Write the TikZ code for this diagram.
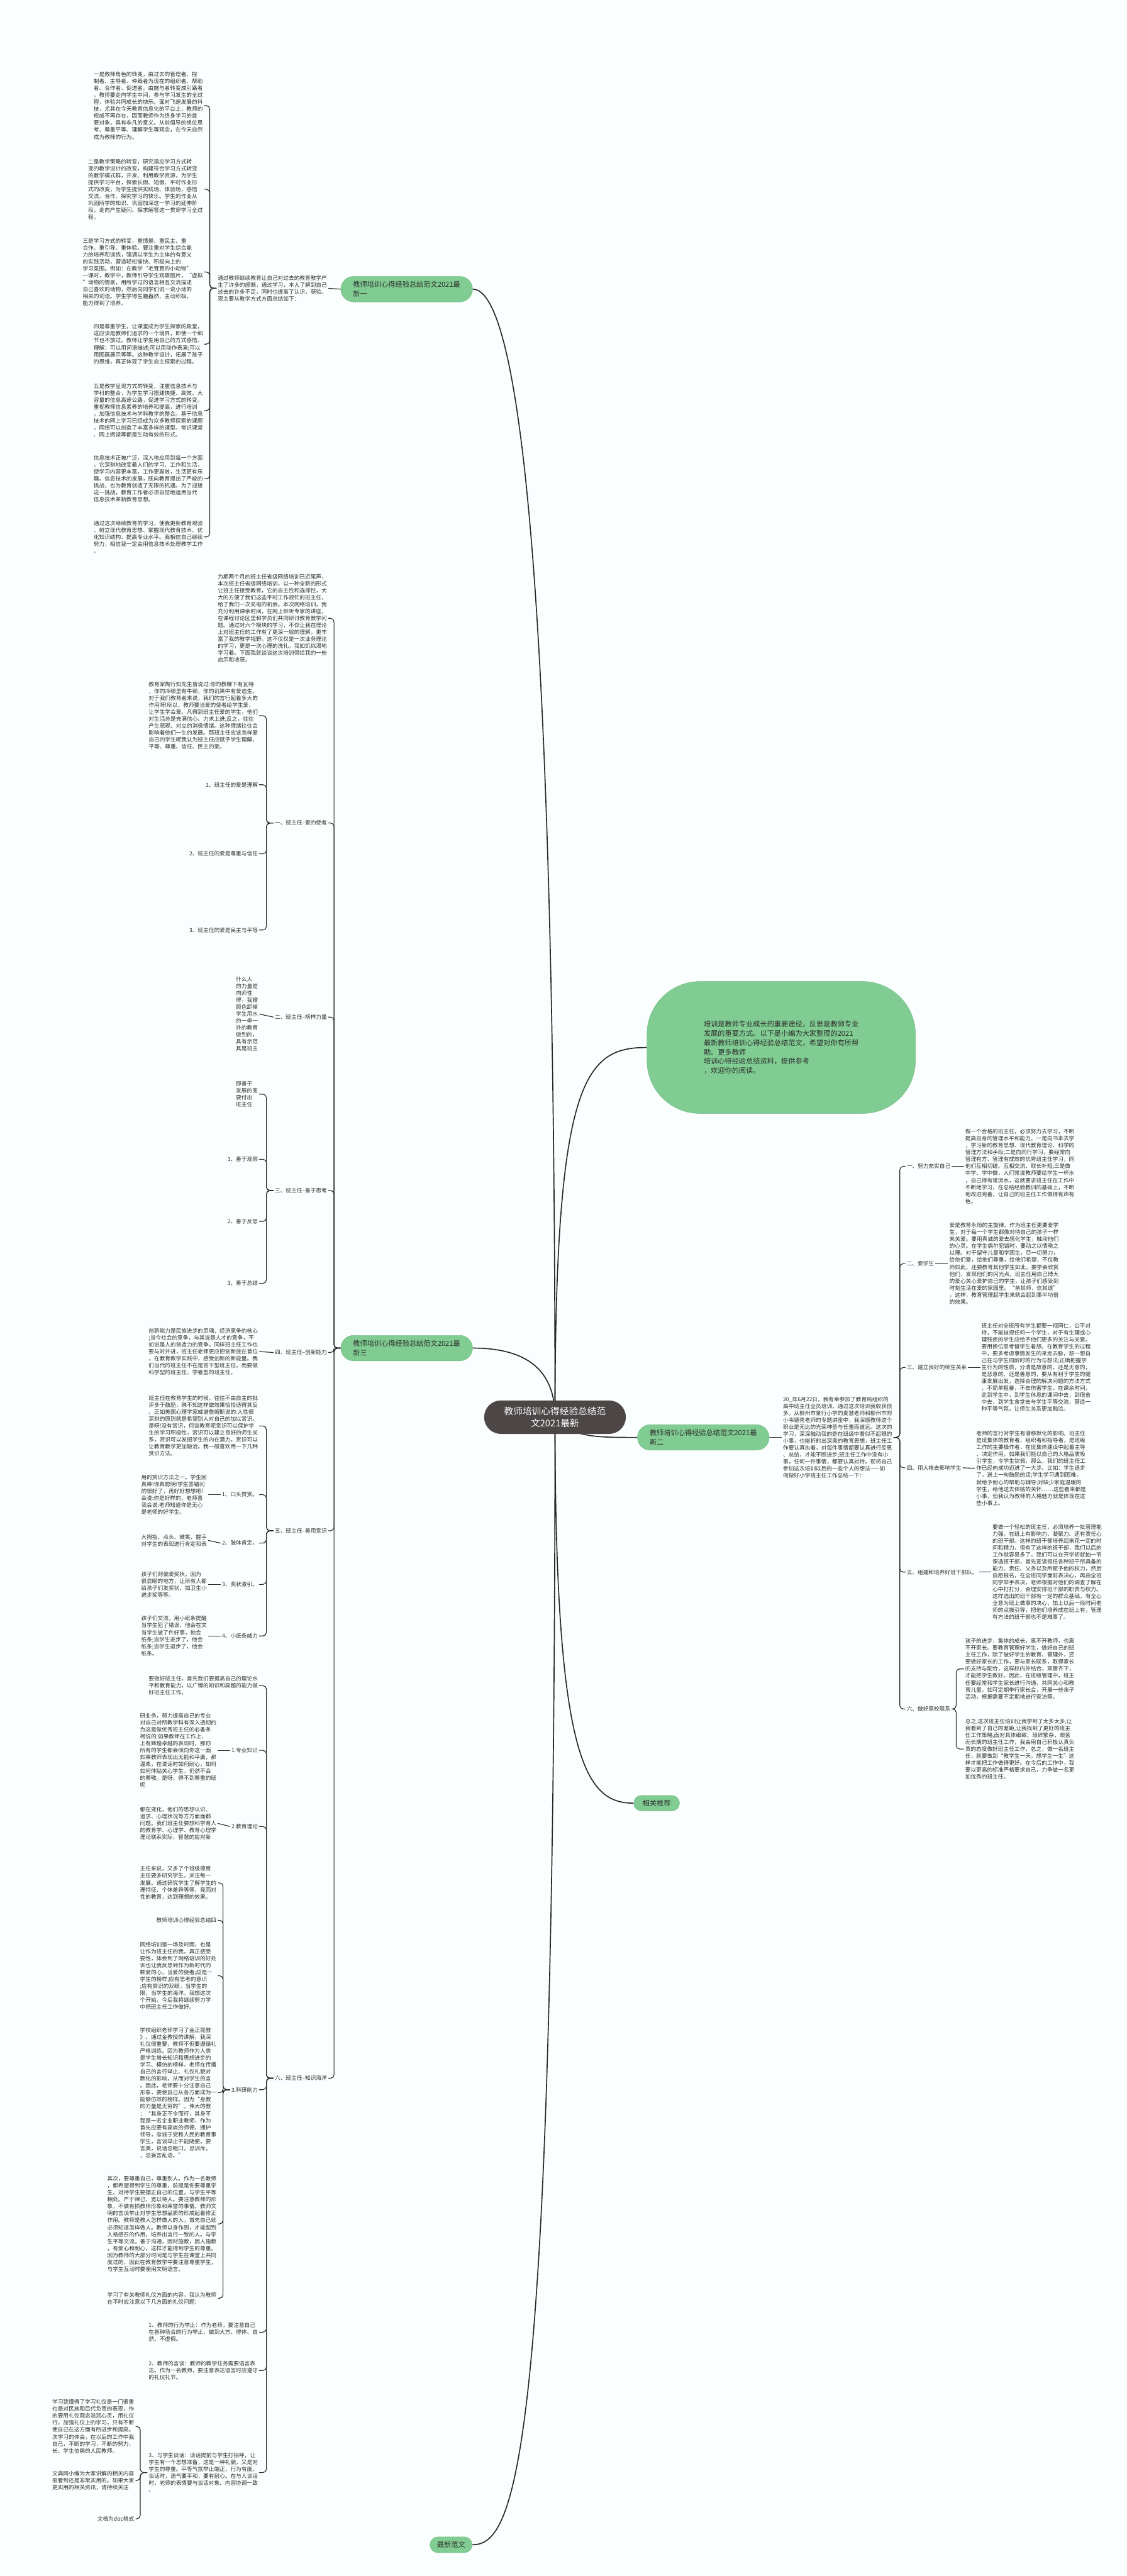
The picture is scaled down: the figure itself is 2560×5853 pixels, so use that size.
\documentclass[tikz,border=0pt]{standalone}
\usepackage{fontspec}
\setmainfont{Noto Sans CJK SC}
\usetikzlibrary{backgrounds}
\definecolor{leafgreen}{RGB}{128,204,146}
\definecolor{rootgray}{RGB}{76,71,70}
\definecolor{linegray}{RGB}{40,40,40}
\definecolor{paper}{RGB}{251,254,254}
\definecolor{inkgray}{RGB}{45,45,45}

\begin{document}
\begin{tikzpicture}[x=1pt,y=-1pt,
  root/.style={fill=rootgray,text=white,rounded corners=38pt,minimum width=322pt,minimum height=76pt,align=center,font=\fontsize{21}{28}\selectfont},
  branch/.style={fill=leafgreen,draw=leafgreen!90!black,line width=0.6pt,rounded corners=29pt,minimum height=58pt,inner xsep=28pt,align=left,font=\fontsize{16}{21}\selectfont,text=inkgray},
  lbl/.style={inner sep=3pt,font=\fontsize{12.4}{15.8}\selectfont,text=inkgray},
  para/.style={lbl,align=left},
  trunk/.style={draw=linegray,line width=2.4pt},
  conn/.style={draw=linegray,line width=1.6pt,rounded corners=8pt}]

\useasboundingbox (0,0) rectangle (2560,5853);

% centre and main branches
\node[root] (root) at (1261,3220) {教师培训心得经验总结范\\文2021最新};
\node[branch] (one) at (924,657) {教师培训心得经验总结范文2021最\\新一};
\node[branch] (two) at (1598,3266) {教师培训心得经验总结范文2021最\\新二};
\node[branch] (three) at (924,3063) {教师培训心得经验总结范文2021最\\新三};
\node[branch,rounded corners=120pt,minimum width=610pt,minimum height=300pt,align=left] (bubble) at (1775,2380) {培训是教师专业成长的重要途径，反思是教师专业\\发展的重要方式。以下是小编为大家整理的2021\\最新教师培训心得经验总结范文，希望对你有所帮\\助。更多教师\\培训心得经验总结资料，提供参考\\，欢迎你的阅读。};
\node[branch,minimum height=35pt,rounded corners=17pt,inner xsep=20pt] (related) at (1492,4097) {相关推荐};
\node[branch,minimum height=36pt,rounded corners=18pt,inner xsep=16pt] (latest) at (1025,5782) {最新范文};

% branch one
\node[para,anchor=east] (intro1) at (746,655) {通过教师继续教育让自己对过去的教育教学产\\生了许多的感慨，通过学习，本人了解到自己\\过去的许多不足，同时也提高了认识，获验。\\现主要从教学方式方面总结如下：};
\node[para,anchor=east] (t1) at (464,240) {一是教师角色的转变，由过去的管理者、控\\制者、主导者、仲裁者为现在的组织者、帮助\\者、合作者、促进者。由施与者转变成引路者\\，教师要走向学生中间，参与学习发生的全过\\程，体验共同成长的快乐。面对飞速发展的科\\技，尤其在今天教育信息化的平台上，教师的\\权威不再存在，因而教师作为终身学习的首\\要对象，具有非凡的意义。从前倡导的换位思\\考、尊重平等、理解学生等观念，在今天自然\\成为教师的行为。};
\node[para,anchor=east] (t2) at (464,430) {二是教学策略的转变，研究适应学习方式转\\变的教学设计的改变，构建符合学习方式转变\\的教学模式群，开发、利用教学资源，为学生\\提供学习平台，探索长假、短假、平时作业形\\式的改变，为学生提供实践场、体验场，感悟\\交流、合作、探究学习的快乐。学生的作业从\\巩固所学的知识、巩固加深这一学习的延伸阶\\段，走向产生疑问、探求解答这一贯穿学习全过\\程。};
\node[para,anchor=east] (t3) at (464,618) {三是学习方式的转变，重情景、重民主、重\\合作、重引导、重体验。要注重对学生综合能\\力的培养和训练，强调以学生为主体的有意义\\的实践活动，营造轻松愉快、积极向上的\\学习氛围。例如：在教学“毛茸茸的小动物”\\一课时，教学中，教师引导学生观察图片，“虚拟\\”动物的情景，用所学过的语言相互交流描述\\自己喜欢的动物，然后向同学们说一说小动的\\相关的词语。学生学得生趣盎然、主动积极，\\能力得到了培养。};
\node[para,anchor=east] (t4) at (464,782) {四是尊重学生，让课堂成为学生探索的殿堂，\\这应该是教师们追求的一个境界，即使一个细\\节也不放过。教师让学生用自己的方式感悟、\\理解：可以用词语描述;可以用动作表演;可以\\用图画展示等等。这种教学设计，拓展了孩子\\的思维，真正体现了学生自主探索的过程。};
\node[para,anchor=east] (t5) at (464,933) {五是教学呈现方式的转变，注重信息技术与\\学科的整合，为学生学习搭建快捷、高效、大\\容量的信息高速公路，促进学习方式的转变。\\重视教师信息素养的培养和提高，进行培训\\，加强信息技术与学科教学的整合。基于信息\\技术的网上学习已经成为众多教师探索的课题\\，网络可以创造了丰富多样的课型。常识课堂\\、网上阅读等都是生动有效的形式。};
\node[para,anchor=east] (t6) at (464,1088) {信息技术正被广泛，深入地应用到每一个方面\\，它深刻地改变着人们的学习、工作和生活，\\使学习内容更丰富，工作更高效，生活更有乐\\趣。信息技术的发展，既向教育提出了严峻的\\挑战，也为教育创造了无限的机遇。为了迎接\\这一挑战，教育工作者必须自觉地运用当代\\信息技术革新教育思想。};
\node[para,anchor=east] (t7) at (464,1220) {通过这次继续教育的学习，使我更新教育观验\\、树立现代教育思想、掌握现代教育技术、优\\化知识结构、提高专业水平。我相信自己继续\\努力，相信我一定会用信息技术处理教学工作\\。};

% branch three
\node[para,anchor=east] (c0) at (746,1405) {为期两个月的班主任省级网络培训已近尾声，\\本次班主任省级网络培训，以一种全新的形式\\让班主任接受教育，它的自主性和选择性，大\\大的方便了我们这些平时工作很忙的班主任，\\给了我们一次充电的机会。本次网络培训，我\\充分利用课余时间，在网上聆听专家的讲座，\\在课程讨论区里和学员们共同研讨教育教学问\\题。通过对六个模块的学习，不仅让我在理论\\上对班主任的工作有了更深一层的理解，更丰\\富了我的教学视野。这不仅仅是一次业务理论\\的学习，更是一次心理的洗礼。我如饥似渴地\\学习着。下面我就谈谈这次培训带给我的一些\\启示和收获。};
\node[lbl,anchor=east] (c1) at (746,1870) {一、班主任--爱的使者};
\node[lbl,anchor=east] (c2) at (746,2311) {二、班主任--榜样力量};
\node[lbl,anchor=east] (c3) at (746,2705) {三、班主任--善于思考};
\node[lbl,anchor=east] (c4) at (746,3073) {四、班主任--创新能力};
\node[lbl,anchor=east] (c5) at (746,3478) {五、班主任--善用赏识};
\node[lbl,anchor=east] (c6) at (746,4722) {六、班主任--知识海洋};

\node[para,anchor=east] (c1a) at (589,1626) {教育家陶行知先生曾说过:你的教鞭下有瓦特\\，你的冷眼里有牛顿，你的讥笑中有爱迪生。\\对于我们教育者来说，我们的言行起着多大的\\作用呀!所以，教师要当爱的使者给学生爱，\\让学生学会爱。凡得到班主任爱的学生，他们\\对生活总是充满信心、力求上进;反之，往往\\产生悲观、对立的消极情绪。这种情绪往往会\\影响着他们一生的发展。那班主任应该怎样爱\\自己的学生呢我认为班主任应赋予学生理解、\\平等、尊重、信任、民主的爱。};
\node[lbl,anchor=east] (c1b) at (589,1783) {1、班主任的爱是理解};
\node[lbl,anchor=east] (c1c) at (589,1940) {2、班主任的爱是尊重与信任};
\node[lbl,anchor=east] (c1d) at (589,2113) {3、班主任的爱是民主与平等};
\node[para,anchor=east] (c2a) at (589,2304) {什么人\\的力量是\\向师性\\得，我婚\\颜色卸掉\\学生用水\\的一举一\\外的教育\\做到的，\\具有示范\\其是班主};
\node[para,anchor=east] (c3a) at (589,2486) {即善于\\发展的变\\要付出\\班主任};
\node[lbl,anchor=east] (c3b) at (589,2634) {1、善于观察};
\node[lbl,anchor=east] (c3c) at (589,2775) {2、善于反思};
\node[lbl,anchor=east] (c3d) at (589,2916) {3、善于总结};
\node[para,anchor=east] (c4a) at (589,3071) {创新能力是民族进步的灵魂、经济竞争的核心\\;当今社会的竞争，与其说是人才的竞争，不\\如说是人的创造力的竞争。同样班主任工作也\\要与时并进，班主任老师更应把创新放在首位\\。在教育教学实践中，感受创新的新能量。我\\们当代的班主任不在是苦干型班主任，而要做\\科学型的班主任、学者型的班主任。};
\node[para,anchor=east] (c5a) at (589,3240) {班主任在教育学生的时候，往往不由自主的批\\评多于鼓励，殊不知这样做效果恰恰适得其反\\。正如美国心理学家威谱詹姆斯说的:人性很\\深刻的原则就是希望别人对自己的加以赏识。\\是呀!没有赏识，何谈教育呢赏识可以保护学\\生的学习积极性，赏识可以建立良好的师生关\\系，赏识可以发掘学生的内在潜力，赏识可以\\让教育教学更加融洽。我一般喜欢用一下几种\\赏识方法。};
\node[lbl,anchor=east] (c5b) at (589,3396) {1、口头赞赏。};
\node[lbl,anchor=east] (c5c) at (589,3506) {2、肢体肯定。};
\node[lbl,anchor=east] (c5d) at (589,3600) {3、奖状激引。};
\node[lbl,anchor=east] (c5e) at (589,3717) {4、小纸条威力};
\node[para,anchor=east] (c5b1) at (473,3396) {用的赏识方法之一。学生回\\真棒!你真聪明!学生答错问\\的很好了，再好好想想吧!\\会说:你是好样的，老师喜\\我会说:老师知道你是无心\\是老师的好学生。};
\node[para,anchor=east] (c5c1) at (473,3500) {大拇指、点头、微笑、握手\\对学生的表现进行肯定和表};
\node[para,anchor=east] (c5d1) at (473,3600) {孩子们则偏爱奖状。因为\\很显眼的地方，让所有人都\\给孩子们发奖状，如卫生小\\进步奖等等。};
\node[para,anchor=east] (c5e1) at (473,3717) {孩子们交流，用小纸条提醒\\当学生犯了错误，他会在文\\当学生做了件好事，他会\\纸条;当学生进步了，他会\\纸条;当学生退步了，他会\\纸条。};
\node[para,anchor=east] (c6a) at (589,3830) {要做好班主任，首先我们要提高自己的理论水\\平和教育能力，以广博的知识和高超的能力做\\好班主任工作。};
\node[lbl,anchor=east] (c6b) at (589,3977) {1.专业知识};
\node[lbl,anchor=east] (c6c) at (589,4150) {2.教育理论};
\node[lbl,anchor=east] (c6d) at (589,4748) {3.科研能力};
\node[para,anchor=east] (c6b1) at (495,3977) {研业务，努力提高自己的专业\\对自己对所教学科有深入透彻的\\为这是做优秀班主任的必备条\\柯说的:如果教师在工作上、\\上有辉煌卓越的表现时，那你\\所有的学生都会倾向你这一面\\如果教师表现出无能和平庸，那\\温柔，在说话时如何耐心，如何\\如何体贴关心学生，仍然不会\\的尊敬。是呀，得不到尊重的班\\呢};
\node[para,anchor=east] (c6c1) at (495,4143) {都在变化，他们的思想认识、\\追求、心理状况等方方面面都\\问题。我们班主任要想科学育人\\的教育学、心理学、教育心理学\\理论联系实际，智慧的应对新};
\node[para,anchor=east] (d1) at (495,4278) {主任来说，又多了个班级德育\\主任要多研究学生，关注每一\\发展。通过研究学生了解学生的\\理特征、个体差异等等，竟而对\\性的教育，达到理想的效果。};
\node[lbl,anchor=east] (d2) at (495,4363) {教师培训心得经验总结四};
\node[para,anchor=east] (d3) at (495,4489) {网络培训是一场及时雨，也是\\让作为班主任的我，真正感受\\要性，体会到了网络培训的好处\\训也让我反思到作为新时代的\\颗爱的心，当爱的使者;应是一\\学生的榜样;应有思考的意识\\;应有赏识的双眼，当学生的\\限，当学生的海洋。我想这次\\个开始，今后我将继续努力学\\中把班主任工作做好。};
\node[para,anchor=east] (d4) at (495,4755) {学校组织老师学习了金正昆教\\》。通过金教授的讲解，我深\\礼仪很重要，教师不但要遵循礼\\严格训练。因为教师作为人类\\是学生增长知识和思想进步的\\学习、模仿的榜样。老师在传播\\自己的言行举止、礼仪礼貌对\\默化的影响，从而对学生的言\\。因此，老师要十分注意自己\\形象，要使自己从各方面成为一\\能够仿效的榜样。因为“身教\\的力量是无穷的”。伟大的教\\：“其身正不令而行，其身不\\我是一名企业职业教师，作为\\首先应要有高尚的师德，拥护\\领导，忠诚于党和人民的教育事\\学生，言谈举止不能随便，要\\言美，说话忌粗口，忌训斥，\\，忌妄言乱语。”};
\node[para,anchor=east] (d5) at (495,5053) {其次，要尊重自己，尊重别人。作为一名教师\\，都希望得到学生的尊重，前提是你要尊重学\\生。对待学生要摆正自己的位置，与学生平等\\相处。严于律己，宽以待人。要注意教师的形\\象，不做有损教师形象和荣誉的事情。教师文\\明的言谈举止对学生思想品质的形成起着修正\\作用。教师是教人怎样做人的人，首先自己就\\必须知道怎样做人。教师以身作则，才能起到\\人格感召的作用，培养出言行一致的人。与学\\生平等交流，善于沟通，因材施教，因人施教\\，有爱心和耐心，这样才能得到学生的尊重。\\因为教师的大部分时间是与学生在课堂上共同\\度过的，因此在教育教学中要注意尊重学生，\\与学生互动时要使用文明语言。};
\node[para,anchor=east] (d6) at (495,5222) {学习了有关教师礼仪方面的内容，我认为教师\\在平时应注意以下几方面的礼仪问题：};
\node[para,anchor=east] (c6e) at (589,5299) {1、教师的行为举止：作为老师，要注意自己\\在各种场合的行为举止，做到大方、得体、自\\然、不虚假。};
\node[para,anchor=east] (c6f) at (589,5386) {2、教师的言谈：教师的教学任务需要语言表\\达。作为一名教师，要注意表达语言时应遵守\\的礼仪礼节。};
\node[para,anchor=east] (c6g) at (589,5618) {3、与学生谈话：谈话提前与学生打招呼，让\\学生有一个思想准备，这是一种礼貌，又是对\\学生的尊重。平等气氛举止端正，行为有度。\\谈话时，语气要平和，要有耐心。在与人谈话\\时，老师的表情要与谈话对象、内容协调一致\\。};
\node[para,anchor=east] (e1) at (308,5513) {学习我懂得了学习礼仪是一门很重\\也是对民族和后代负责的表现，作\\的要用礼仪观念滋润心灵，用礼仪\\行，加强礼仪上的学习，只有不断\\使自己在这方面有所进步和提高。\\次学习的体会，在以后的工作中我\\自己，不断的学习，不断的努力，\\长、学生信赖的人民教师。};
\node[para,anchor=east] (e2) at (308,5636) {文典网小编为大家讲解的相关内容\\很看到还是非常实用的。如果大家\\更实用的相关资讯，请持续关注};
\node[lbl,anchor=east] (e3) at (308,5723) {文档为doc格式};

% branch two
\node[para,anchor=west] (intro2) at (1776,3266) {20\_年6月22日，我有幸参加了教育局组织的\\高中班主任全员培训，通过这次培训我收获很\\多。从柳州市景行小学的麦慧老师和柳州市附\\小韦德秀老师的专题讲座中，我深感教师这个\\职业是无比的光荣神圣与任重而道远。这次的\\学习，深深触动我的是在班级中看似不起眼的\\小事，也能折射出深奥的教育思想，班主任工\\作要认真执着，对每件事情都要认真进行反思\\、总结，才能不断进步;班主任工作中没有小\\事，任何一件事情，都要认真对待。现将自己\\参加这次培训以后的一些个人的想法——如\\何做好小学班主任工作总结一下：};
\node[lbl,anchor=west] (s1) at (2057,2650) {一、努力充实自己};
\node[lbl,anchor=west] (s2) at (2057,2871) {二、爱学生};
\node[lbl,anchor=west] (s3) at (2057,3107) {三、建立良好的师生关系};
\node[lbl,anchor=west] (s4) at (2057,3335) {四、用人格去影响学生};
\node[lbl,anchor=west] (s5) at (2057,3572) {五、组建和培养好班干部队。};
\node[lbl,anchor=west] (s6) at (2057,3883) {六、做好家校联系};
\node[para,anchor=west] (s1a) at (2190,2650) {做一个合格的班主任，必须努力去学习，不断\\提高自身的管理水平和能力。一是向书本去学\\，学习新的教育思想、现代教育理论、科学的\\管理方法和手段;二是向同行学习，要经常向\\管理有方、管理有成效的优秀班主任学习，同\\他们互相切磋、互相交流、取长补短;三是做\\中学、学中做，人们常说教师要给学生一杯水\\，自己得有常流水，这就要求班主任在工作中\\不断地学习，在总结经验教训的基础上，不断\\地改进完善，让自己的班主任工作做得有声有\\色。};
\node[para,anchor=west] (s2a) at (2154,2871) {爱是教育永恒的主旋律。作为班主任更要爱学\\生，对于每一个学生都像对待自己的孩子一样\\来关爱。要用真诚的爱去感化学生，触动他们\\的心灵。在学生偶尔犯错时，要动之以情晓之\\以理。对于留守儿童和学困生，尽一切努力，\\给他们爱，给他们尊重，给他们希望，不仅教\\师如此，还要教育其他学生如此，要学会欣赏\\他们，发现他们的闪光点。班主任用自己博大\\的爱心关心爱护自己的学生，让孩子们感受到\\时刻生活在爱的家园里。“亲其师，信其道”\\，这样，教育管理起学生来就会起到事半功倍\\的效果。};
\node[para,anchor=west] (s3a) at (2227,3107) {班主任对全班所有学生都要一视同仁，公平对\\待，不能歧视任何一个学生，对于有生理或心\\理残疾的学生应给予他们更多的关注与关爱。\\要用换位思考替学生着想。在教育学生的过程\\中，要多考虑事情发生的来龙去脉，想一想自\\己在与学生同龄时的行为与想法;正确把握学\\生行为的性质，分清是故意的，还是无意的，\\是恶意的，还是善意的，要从有利于学生的健\\康发展出发，选择合理的解决问题的方法方式\\，不简单粗暴，不去伤害学生。在课余时间，\\走到学生中，到学生休息的课间中去，到宿舍\\中去，到学生食堂去与学生平等交流，营造一\\种平等气氛，让师生关系更加融洽。};
\node[para,anchor=west] (s4a) at (2215,3336) {老师的言行对学生有潜移默化的影响。班主任\\是班集体的教育者、组织者和指导者，是班级\\工作的主要操作者，在班集体建设中起着主导\\、决定作用。如果我们能以自己的人格品质吸\\引学生，令学生钦佩，那么，我们的班主任工\\作已经向成功迈进了一大步。比如：学生退步\\了，送上一句鼓励的话;学生学习遇到困难，\\就给予耐心的帮助与辅导;对缺少家庭温暖的\\学生，给他送去体贴的关怀……这些看来都是\\小事，但我认为教师的人格魅力就是体现在这\\些小事上。};
\node[para,anchor=west] (s5a) at (2252,3572) {要做一个轻松的班主任，必须培养一批管理能\\力强，在班上有影响力、凝聚力、还有责任心\\的班干部。这样的班干部培养起来花一定的时\\间和精力，但有了这样的班干部，我们以后的\\工作就容易多了。我们可以在开学初就抽一节\\课选班干部，首先宣读担任各种班干所具备的\\能力、责任、义务以及所赋予他的权力，然后\\自愿报名，在全班同学面前表决心，再由全班\\同学举手表决，老师根据对他们的调查了解在\\心中打打分，合理安排班干部的职责与权力。\\这样选出的班干部有一定的群众基础，有全心\\全意为班上做事的决心，加上以后一段时间老\\师的点拨引导，把他们培养成在班上有，管理\\有方法的班干部也不是难事了。};
\node[para,anchor=west] (s6a) at (2190,3792) {孩子的进步，集体的成长，离不开教师，也离\\不开家长。要教育管理好学生，做好自己的班\\主任工作，除了做好学生的教育、管理外，还\\要做好家长的工作，要与家长联系，取得家长\\的支持与配合，这样校内外结合，双管齐下，\\才能把学生教好。因此，在班级管理中，班主\\任要经常和学生家长进行沟通，共同关心和教\\育儿童。如可定期举行家长会，开展一些亲子\\活动，根据需要不定期地进行家访等。};
\node[para,anchor=west] (s6b) at (2190,3974) {总之,这次班主任培训让我学到了太多太多,让\\我看到了自己的差距,让我找到了更好的班主\\任工作策略,面对具体细致、琐碎繁杂，艰苦\\而长期的班主任工作，我会用自己积极认真负\\责的态度做好班主任工作，总之，做一名班主\\任，就要做到“教学生一天，想学生一生”这\\样才能把工作做得更好。在今后的工作中，我\\要以更高的标准严格要求自己，力争做一名更\\加优秀的班主任。};

\begin{scope}[on background layer]
\fill[paper] (0,0) rectangle (2560,5853);
% main connectors
\draw[trunk] (root.center) .. controls (1261,1000) and (1150,657) .. (one.east);
\draw[trunk] (root.center) .. controls (1261,2450) and (1330,2380) .. (bubble.west);
\draw[trunk] (root.center) .. controls (1261,3100) and (1180,3063) .. (three.east);
\draw[trunk] (root.center) .. controls (1300,3266) and (1350,3266) .. (two.west);
\draw[trunk] (root.center) .. controls (1261,4000) and (1330,4097) .. (related.west);
\draw[trunk] (root.center) .. controls (1261,5600) and (1170,5782) .. (latest.east);
% branch one
\draw[conn] (one.west) -- (intro1.east);
\foreach \t in {t1,t2,t3,t4,t5,t6,t7}
  \draw[conn] (intro1.west) -- ++(-15,0) |- (\t.east);
% branch three
\foreach \t in {c0,c1,c2,c3,c4,c5,c6}
  \draw[conn] (three.west) -- ++(-15,0) |- (\t.east);
\foreach \t in {c1a,c1b,c1c,c1d}
  \draw[conn] (c1.west) -- ++(-16,0) |- (\t.east);
\draw[conn] (c2.west) -- (c2a.east);
\foreach \t in {c3a,c3b,c3c,c3d}
  \draw[conn] (c3.west) -- ++(-16,0) |- (\t.east);
\draw[conn] (c4.west) -- (c4a.east);
\foreach \t in {c5a,c5b,c5c,c5d,c5e}
  \draw[conn] (c5.west) -- ++(-16,0) |- (\t.east);
\draw[conn] (c5b.west) -- (c5b1.east);
\draw[conn] (c5c.west) -- (c5c1.east);
\draw[conn] (c5d.west) -- (c5d1.east);
\draw[conn] (c5e.west) -- (c5e1.east);
\foreach \t in {c6a,c6b,c6c,c6d,c6e,c6f,c6g}
  \draw[conn] (c6.west) -- ++(-16,0) |- (\t.east);
\draw[conn] (c6b.west) -- (c6b1.east);
\draw[conn] (c6c.west) -- (c6c1.east);
\foreach \t in {d1,d2,d3,d4,d5,d6}
  \draw[conn] (c6d.west) -- ++(-16,0) |- (\t.east);
\foreach \t in {e1,e2,e3}
  \draw[conn] (c6g.west) -- ++(-16,0) |- (\t.east);
% branch two
\draw[conn] (two.east) -- (intro2.west);
\foreach \t in {s1,s2,s3,s4,s5,s6}
  \draw[conn] (intro2.east) -- ++(14,0) |- (\t.west);
\draw[conn] (s1.east) -- (s1a.west);
\draw[conn] (s2.east) -- (s2a.west);
\draw[conn] (s3.east) -- (s3a.west);
\draw[conn] (s4.east) -- (s4a.west);
\draw[conn] (s5.east) -- (s5a.west);
\draw[conn] (s6.east) -- ++(10,0) |- (s6a.west);
\draw[conn] (s6.east) -- ++(10,0) |- (s6b.west);
\end{scope}
\end{tikzpicture}
\end{document}
